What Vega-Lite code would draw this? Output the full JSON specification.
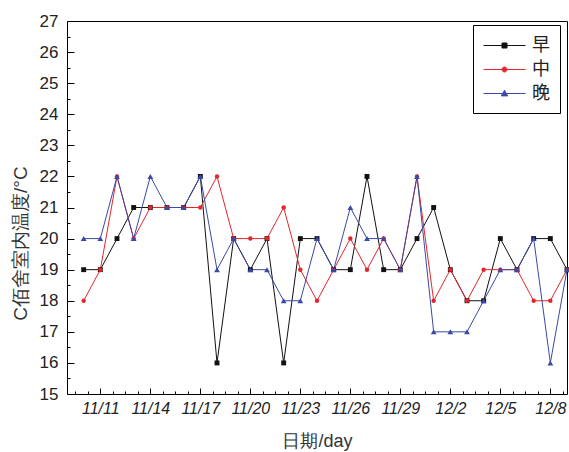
{
  "$schema": "https://vega.github.io/schema/vega-lite/v6.json",
  "width": 500,
  "height": 373,
  "autosize": {"type": "none"},
  "padding": {"left": 67, "top": 21, "right": 2, "bottom": 58},
  "background": "white",
  "config": {
    "view": {"stroke": "#000", "strokeWidth": 1},
    "font": "Liberation Sans",
    "axis": {"grid": false, "domain": false, "tickColor": "#000", "tickWidth": 1, "labelColor": "#222", "titleColor": "#333", "titleFontWeight": "normal"}
  },
  "data": {"values": [
    {"date": "2015-11-10", "series": "早", "value": 19},
    {"date": "2015-11-11", "series": "早", "value": 19},
    {"date": "2015-11-12", "series": "早", "value": 20},
    {"date": "2015-11-13", "series": "早", "value": 21},
    {"date": "2015-11-14", "series": "早", "value": 21},
    {"date": "2015-11-15", "series": "早", "value": 21},
    {"date": "2015-11-16", "series": "早", "value": 21},
    {"date": "2015-11-17", "series": "早", "value": 22},
    {"date": "2015-11-18", "series": "早", "value": 16},
    {"date": "2015-11-19", "series": "早", "value": 20},
    {"date": "2015-11-20", "series": "早", "value": 19},
    {"date": "2015-11-21", "series": "早", "value": 20},
    {"date": "2015-11-22", "series": "早", "value": 16},
    {"date": "2015-11-23", "series": "早", "value": 20},
    {"date": "2015-11-24", "series": "早", "value": 20},
    {"date": "2015-11-25", "series": "早", "value": 19},
    {"date": "2015-11-26", "series": "早", "value": 19},
    {"date": "2015-11-27", "series": "早", "value": 22},
    {"date": "2015-11-28", "series": "早", "value": 19},
    {"date": "2015-11-29", "series": "早", "value": 19},
    {"date": "2015-11-30", "series": "早", "value": 20},
    {"date": "2015-12-01", "series": "早", "value": 21},
    {"date": "2015-12-02", "series": "早", "value": 19},
    {"date": "2015-12-03", "series": "早", "value": 18},
    {"date": "2015-12-04", "series": "早", "value": 18},
    {"date": "2015-12-05", "series": "早", "value": 20},
    {"date": "2015-12-06", "series": "早", "value": 19},
    {"date": "2015-12-07", "series": "早", "value": 20},
    {"date": "2015-12-08", "series": "早", "value": 20},
    {"date": "2015-12-09", "series": "早", "value": 19},
    {"date": "2015-11-10", "series": "中", "value": 18},
    {"date": "2015-11-11", "series": "中", "value": 19},
    {"date": "2015-11-12", "series": "中", "value": 22},
    {"date": "2015-11-13", "series": "中", "value": 20},
    {"date": "2015-11-14", "series": "中", "value": 21},
    {"date": "2015-11-15", "series": "中", "value": 21},
    {"date": "2015-11-16", "series": "中", "value": 21},
    {"date": "2015-11-17", "series": "中", "value": 21},
    {"date": "2015-11-18", "series": "中", "value": 22},
    {"date": "2015-11-19", "series": "中", "value": 20},
    {"date": "2015-11-20", "series": "中", "value": 20},
    {"date": "2015-11-21", "series": "中", "value": 20},
    {"date": "2015-11-22", "series": "中", "value": 21},
    {"date": "2015-11-23", "series": "中", "value": 19},
    {"date": "2015-11-24", "series": "中", "value": 18},
    {"date": "2015-11-25", "series": "中", "value": 19},
    {"date": "2015-11-26", "series": "中", "value": 20},
    {"date": "2015-11-27", "series": "中", "value": 19},
    {"date": "2015-11-28", "series": "中", "value": 20},
    {"date": "2015-11-29", "series": "中", "value": 19},
    {"date": "2015-11-30", "series": "中", "value": 22},
    {"date": "2015-12-01", "series": "中", "value": 18},
    {"date": "2015-12-02", "series": "中", "value": 19},
    {"date": "2015-12-03", "series": "中", "value": 18},
    {"date": "2015-12-04", "series": "中", "value": 19},
    {"date": "2015-12-05", "series": "中", "value": 19},
    {"date": "2015-12-06", "series": "中", "value": 19},
    {"date": "2015-12-07", "series": "中", "value": 18},
    {"date": "2015-12-08", "series": "中", "value": 18},
    {"date": "2015-12-09", "series": "中", "value": 19},
    {"date": "2015-11-10", "series": "晚", "value": 20},
    {"date": "2015-11-11", "series": "晚", "value": 20},
    {"date": "2015-11-12", "series": "晚", "value": 22},
    {"date": "2015-11-13", "series": "晚", "value": 20},
    {"date": "2015-11-14", "series": "晚", "value": 22},
    {"date": "2015-11-15", "series": "晚", "value": 21},
    {"date": "2015-11-16", "series": "晚", "value": 21},
    {"date": "2015-11-17", "series": "晚", "value": 22},
    {"date": "2015-11-18", "series": "晚", "value": 19},
    {"date": "2015-11-19", "series": "晚", "value": 20},
    {"date": "2015-11-20", "series": "晚", "value": 19},
    {"date": "2015-11-21", "series": "晚", "value": 19},
    {"date": "2015-11-22", "series": "晚", "value": 18},
    {"date": "2015-11-23", "series": "晚", "value": 18},
    {"date": "2015-11-24", "series": "晚", "value": 20},
    {"date": "2015-11-25", "series": "晚", "value": 19},
    {"date": "2015-11-26", "series": "晚", "value": 21},
    {"date": "2015-11-27", "series": "晚", "value": 20},
    {"date": "2015-11-28", "series": "晚", "value": 20},
    {"date": "2015-11-29", "series": "晚", "value": 19},
    {"date": "2015-11-30", "series": "晚", "value": 22},
    {"date": "2015-12-01", "series": "晚", "value": 17},
    {"date": "2015-12-02", "series": "晚", "value": 17},
    {"date": "2015-12-03", "series": "晚", "value": 17},
    {"date": "2015-12-04", "series": "晚", "value": 18},
    {"date": "2015-12-05", "series": "晚", "value": 19},
    {"date": "2015-12-06", "series": "晚", "value": 19},
    {"date": "2015-12-07", "series": "晚", "value": 20},
    {"date": "2015-12-08", "series": "晚", "value": 16},
    {"date": "2015-12-09", "series": "晚", "value": 19}
  ]},
  "resolve": {"axis": {"x": "independent", "y": "independent"}},
  "layer": [
    {
      "mark": {"type": "line", "strokeWidth": 1},
      "encoding": {
        "x": {
          "field": "date", "type": "temporal",
          "scale": {"type": "utc", "domain": [{"year": 2015, "month": 11, "date": 9, "utc": true}, {"year": 2015, "month": 12, "date": 9, "utc": true}], "nice": false},
          "axis": {
            "orient": "bottom",
            "values": [
              {"year": 2015, "month": 11, "date": 11, "utc": true},
              {"year": 2015, "month": 11, "date": 14, "utc": true},
              {"year": 2015, "month": 11, "date": 17, "utc": true},
              {"year": 2015, "month": 11, "date": 20, "utc": true},
              {"year": 2015, "month": 11, "date": 23, "utc": true},
              {"year": 2015, "month": 11, "date": 26, "utc": true},
              {"year": 2015, "month": 11, "date": 29, "utc": true},
              {"year": 2015, "month": 12, "date": 2, "utc": true},
              {"year": 2015, "month": 12, "date": 5, "utc": true},
              {"year": 2015, "month": 12, "date": 8, "utc": true}
            ],
            "labelExpr": "(utcmonth(datum.value) + 1) + '/' + utcdate(datum.value)",
            "tickSize": -6,
            "labelPadding": 12,
            "labelFontSize": 16,
            "labelFontStyle": "italic",
            "labelFlush": false,
            "labelOverlap": false,
            "title": "日期/day",
            "titleFontSize": 18,
            "titleBaseline": "alphabetic",
            "titleY": 52
          }
        },
        "y": {
          "field": "value", "type": "quantitative",
          "scale": {"domain": [15, 27], "nice": false, "zero": false},
          "axis": {
            "orient": "left",
            "values": [15, 16, 17, 18, 19, 20, 21, 22, 23, 24, 25, 26, 27],
            "tickSize": -7,
            "labelPadding": 16,
            "labelFontSize": 17,
            "labelFlush": false,
            "labelOverlap": false,
            "title": "C佰舍室内温度/°C",
            "titleFontSize": 19,
            "titleX": -37,
            "titleY": 222,
            "titleAngle": -90,
            "titleAlign": "center",
            "titleBaseline": "bottom"
          }
        },
        "color": {
          "field": "series", "type": "nominal",
          "scale": {"domain": ["早", "中", "晚"], "range": ["#111111", "#e3262b", "#3b49a6"]},
          "legend": {
            "title": null,
            "orient": "none",
            "legendX": 406,
            "legendY": 4,
            "strokeColor": "#000",
            "fillColor": "#fff",
            "padding": 10,
            "cornerRadius": 0,
            "symbolSize": 400,
            "symbolStrokeWidth": 1,
            "labelFontSize": 18,
            "labelFont": "Noto Sans CJK SC",
            "labelColor": "#222",
            "labelOffset": 28,
            "rowPadding": 4,
            "encode": {
              "symbols": {
                "update": {
                  "shape": {"signal": "datum.value === '早' ? 'M-1,0H3.2M0.85,-0.25H1.35V0.25H0.85Z' : datum.value === '中' ? 'M-1,0H3.2M1.35,0A0.25,0.25,0,1,1,0.85,0A0.25,0.25,0,1,1,1.35,0Z' : 'M-1,0H3.2M1.1,-0.32L1.42,0.24L0.78,0.24Z'"},
                  "fill": {"scale": "color", "field": "value"},
                  "stroke": {"scale": "color", "field": "value"},
                  "opacity": {"value": 1}
                }
              }
            }
          }
        }
      }
    },
    {
      "transform": [{"filter": "datum.series === '早'"}],
      "mark": {"type": "point", "filled": true, "opacity": 1, "shape": "square", "size": 24, "color": "#111111"},
      "encoding": {
        "x": {
          "field": "date", "type": "temporal",
          "axis": {
            "orient": "bottom",
            "values": [
              {"year": 2015, "month": 11, "date": 9, "hours": 12, "utc": true},
              {"year": 2015, "month": 11, "date": 10, "hours": 6, "utc": true},
              {"year": 2015, "month": 11, "date": 11, "hours": 18, "utc": true},
              {"year": 2015, "month": 11, "date": 12, "hours": 12, "utc": true},
              {"year": 2015, "month": 11, "date": 13, "hours": 6, "utc": true},
              {"year": 2015, "month": 11, "date": 14, "hours": 18, "utc": true},
              {"year": 2015, "month": 11, "date": 15, "hours": 12, "utc": true},
              {"year": 2015, "month": 11, "date": 16, "hours": 6, "utc": true},
              {"year": 2015, "month": 11, "date": 17, "hours": 18, "utc": true},
              {"year": 2015, "month": 11, "date": 18, "hours": 12, "utc": true},
              {"year": 2015, "month": 11, "date": 19, "hours": 6, "utc": true},
              {"year": 2015, "month": 11, "date": 20, "hours": 18, "utc": true},
              {"year": 2015, "month": 11, "date": 21, "hours": 12, "utc": true},
              {"year": 2015, "month": 11, "date": 22, "hours": 6, "utc": true},
              {"year": 2015, "month": 11, "date": 23, "hours": 18, "utc": true},
              {"year": 2015, "month": 11, "date": 24, "hours": 12, "utc": true},
              {"year": 2015, "month": 11, "date": 25, "hours": 6, "utc": true},
              {"year": 2015, "month": 11, "date": 26, "hours": 18, "utc": true},
              {"year": 2015, "month": 11, "date": 27, "hours": 12, "utc": true},
              {"year": 2015, "month": 11, "date": 28, "hours": 6, "utc": true},
              {"year": 2015, "month": 11, "date": 29, "hours": 18, "utc": true},
              {"year": 2015, "month": 11, "date": 30, "hours": 12, "utc": true},
              {"year": 2015, "month": 12, "date": 1, "hours": 6, "utc": true},
              {"year": 2015, "month": 12, "date": 2, "hours": 18, "utc": true},
              {"year": 2015, "month": 12, "date": 3, "hours": 12, "utc": true},
              {"year": 2015, "month": 12, "date": 4, "hours": 6, "utc": true},
              {"year": 2015, "month": 12, "date": 5, "hours": 18, "utc": true},
              {"year": 2015, "month": 12, "date": 6, "hours": 12, "utc": true},
              {"year": 2015, "month": 12, "date": 7, "hours": 6, "utc": true},
              {"year": 2015, "month": 12, "date": 8, "hours": 18, "utc": true}
            ],
            "tickSize": -3,
            "labels": false,
            "title": null
          }
        },
        "y": {
          "field": "value", "type": "quantitative",
          "axis": {
            "orient": "left",
            "values": [15.5, 16.5, 17.5, 18.5, 19.5, 20.5, 21.5, 22.5, 23.5, 24.5, 25.5, 26.5],
            "tickSize": -3,
            "labels": false,
            "title": null
          }
        }
      }
    },
    {
      "transform": [{"filter": "datum.series === '中'"}],
      "mark": {"type": "point", "filled": true, "opacity": 1, "shape": "circle", "size": 20, "color": "#e3262b"},
      "encoding": {
        "x": {"field": "date", "type": "temporal", "axis": null},
        "y": {"field": "value", "type": "quantitative", "axis": null}
      }
    },
    {
      "transform": [{"filter": "datum.series === '晚'"}],
      "mark": {"type": "point", "filled": true, "opacity": 1, "shape": "triangle-up", "size": 34, "color": "#3b49a6"},
      "encoding": {
        "x": {"field": "date", "type": "temporal", "axis": null},
        "y": {"field": "value", "type": "quantitative", "axis": null}
      }
    }
  ]
}
